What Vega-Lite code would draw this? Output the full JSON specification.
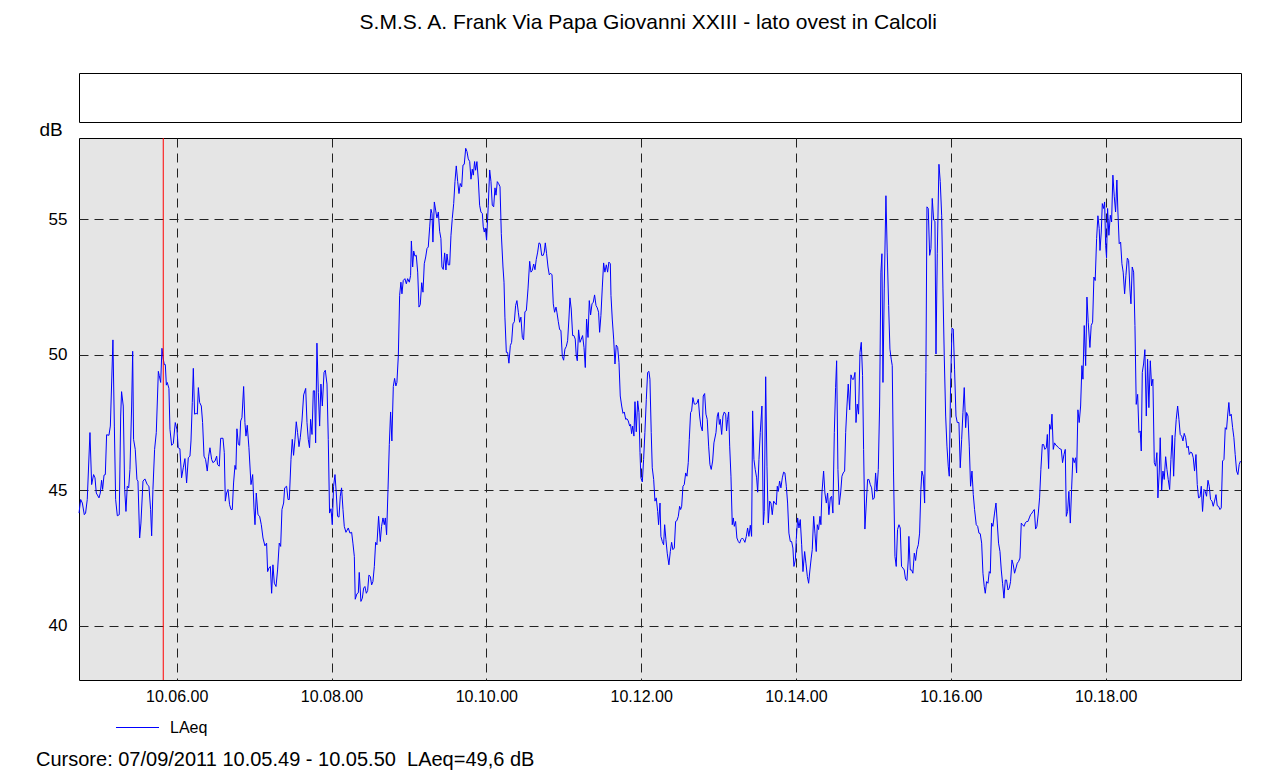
{
  "$schema": "https://vega.github.io/schema/vega-lite/v6.json",
  "background": "white",
  "autosize": {"type": "pad"},
  "padding": {"left": 35, "top": 11, "right": 44, "bottom": 10},
  "config": {
    "font": "Liberation Sans",
    "title": {"fontSize": 20, "fontWeight": "normal", "color": "#000"},
    "axis": {"labelFontSize": 16, "labelColor": "#000", "ticks": false, "domain": false, "grid": true, "gridDash": [9, 6], "gridColor": "#222", "gridWidth": 1, "gridOpacity": 1}
  },
  "title": {"text": "S.M.S. A. Frank Via Papa Giovanni XXIII - lato ovest in Calcoli", "anchor": "middle", "offset": 40, "dx": 9, "fontSize": 21},
  "bounds": "flush",
  "spacing": 16,
  "vconcat": [
    {
      "width": 1162, "height": 49,
      "view": {"fill": "white", "stroke": "#000", "strokeWidth": 1},
      "data": {"values": [{"note": ""}]},
      "mark": {"type": "text"},
      "encoding": {"text": {"field": "note", "type": "nominal"}}
    },
    {
      "width": 1162, "height": 542,
      "view": {"fill": "#e5e5e5", "stroke": "#000", "strokeWidth": 1},
      "title": {"text": "Cursore: 07/09/2011 10.05.49 - 10.05.50 \u00a0LAeq=49,6 dB", "orient": "bottom", "anchor": "start", "frame": "group", "dx": -43, "offset": 46, "fontSize": 20},
      "layer": [
        {
          "data": {"name": "laeq"},
          "mark": {"type": "line", "strokeWidth": 1, "interpolate": "linear"},
          "encoding": {
            "x": {"field": "t", "type": "quantitative", "scale": {"domain": [284.3, 1184.9], "nice": false, "zero": false},
                  "axis": {"values": [360, 480, 600, 720, 840, 960, 1080], "labelExpr": "timeFormat(datetime(2011, 8, 7, 10, 0, datum.value), '%H.%M.%S')", "title": null, "labelPadding": 8}},
            "y": {"field": "v", "type": "quantitative", "scale": {"domain": [38, 58], "nice": false, "zero": false},
                  "axis": {"values": [40, 45, 50, 55], "title": "dB", "titleAngle": 0, "titleX": -40, "titleY": -9, "titleAlign": "left", "titleBaseline": "middle", "titleFontSize": 19, "titleFontWeight": "normal", "titleColor": "#000", "labelPadding": 12, "labelFontSize": 17}},
            "color": {"datum": "LAeq", "type": "nominal", "scale": {"range": ["#0000ff"]},
                      "legend": {"orient": "none", "legendX": 36, "legendY": 632, "symbolType": "stroke", "symbolSize": 1850, "symbolStrokeWidth": 1.2, "symbolStrokeColor": "#0000ff", "symbolOpacity": 1, "labelFontSize": 16, "labelColor": "#000", "labelOffset": 10, "title": null, "padding": 0,
                                 "encode": {"symbols": {"update": {"stroke": {"value": "#0000ff"}, "strokeOpacity": {"value": 1}, "opacity": {"value": 1}}}}}}
          }
        },
        {
          "data": {"values": [{"cursor": 349.6}]},
          "mark": {"type": "rule", "color": "#ff0000", "strokeWidth": 1},
          "encoding": {"x": {"field": "cursor", "type": "quantitative"}}
        }
      ]
    }
  ],
  "datasets": {
    "laeq": [
{"t":284.3,"v":44.16},{"t":285.6,"v":44.66},{"t":286.9,"v":44.53},{"t":288.4,"v":44.10},{"t":289.4,"v":44.16},{"t":290.7,"v":44.66},{"t":292.8,"v":47.13},{"t":294.1,"v":45.21},{"t":295.6,"v":45.58},{"t":296.7,"v":45.46},{"t":297.7,"v":44.90},{"t":299.8,"v":44.72},{"t":300.8,"v":44.90},{"t":301.8,"v":45.37},{"t":302.6,"v":45.03},{"t":303.7,"v":45.56},{"t":304.7,"v":45.58},{"t":305.7,"v":47.05},{"t":307.5,"v":47.03},{"t":308.6,"v":47.37},{"t":310.6,"v":50.55},{"t":311.7,"v":47.37},{"t":312.7,"v":44.66},{"t":314.0,"v":44.06},{"t":315.5,"v":44.10},{"t":316.6,"v":47.74},{"t":317.3,"v":48.64},{"t":318.6,"v":48.11},{"t":319.7,"v":45.03},{"t":320.7,"v":44.22},{"t":321.7,"v":45.15},{"t":322.8,"v":45.09},{"t":323.8,"v":45.77},{"t":325.1,"v":48.11},{"t":325.9,"v":50.13},{"t":326.6,"v":46.88},{"t":327.9,"v":46.51},{"t":329.2,"v":45.40},{"t":330.0,"v":45.34},{"t":331.3,"v":43.24},{"t":332.3,"v":43.79},{"t":333.9,"v":45.34},{"t":335.4,"v":45.42},{"t":337.2,"v":45.21},{"t":338.5,"v":45.15},{"t":339.8,"v":44.29},{"t":340.6,"v":43.32},{"t":341.6,"v":45.03},{"t":342.9,"v":46.51},{"t":344.2,"v":47.13},{"t":345.8,"v":49.39},{"t":346.5,"v":49.23},{"t":347.6,"v":48.98},{"t":348.6,"v":50.24},{"t":349.6,"v":49.84},{"t":350.4,"v":49.64},{"t":351.2,"v":49.64},{"t":352.0,"v":48.88},{"t":352.7,"v":48.98},{"t":354.0,"v":48.76},{"t":354.8,"v":47.25},{"t":356.1,"v":46.66},{"t":357.4,"v":46.73},{"t":358.9,"v":47.50},{"t":360.2,"v":47.25},{"t":361.2,"v":46.57},{"t":362.5,"v":46.53},{"t":363.8,"v":45.46},{"t":365.1,"v":45.83},{"t":366.4,"v":46.17},
{"t":367.7,"v":45.27},{"t":369.0,"v":46.20},{"t":370.3,"v":46.26},{"t":371.1,"v":46.82},{"t":372.1,"v":48.24},{"t":372.9,"v":49.50},{"t":373.9,"v":47.81},{"t":375.2,"v":47.84},{"t":376.0,"v":47.81},{"t":376.8,"v":48.79},{"t":377.8,"v":48.24},{"t":379.1,"v":48.11},{"t":380.1,"v":47.50},{"t":381.2,"v":46.26},{"t":382.4,"v":46.14},{"t":383.7,"v":45.71},{"t":384.8,"v":46.26},{"t":385.8,"v":46.57},{"t":387.1,"v":46.14},{"t":388.1,"v":46.02},{"t":389.7,"v":46.08},{"t":391.0,"v":46.26},{"t":391.7,"v":45.95},{"t":393.0,"v":45.89},{"t":394.1,"v":46.92},{"t":395.9,"v":46.92},{"t":396.9,"v":46.39},{"t":397.7,"v":44.60},{"t":398.7,"v":44.90},{"t":399.8,"v":45.03},{"t":401.0,"v":44.47},{"t":402.1,"v":44.29},{"t":403.1,"v":44.29},{"t":404.1,"v":45.27},{"t":405.2,"v":45.92},{"t":405.9,"v":45.77},{"t":406.7,"v":47.27},{"t":407.8,"v":46.69},{"t":408.8,"v":46.66},{"t":409.6,"v":47.56},{"t":410.6,"v":47.68},{"t":411.9,"v":48.83},{"t":412.9,"v":47.50},{"t":413.7,"v":47.00},{"t":414.7,"v":47.40},{"t":416.0,"v":46.57},{"t":417.6,"v":45.21},{"t":418.9,"v":45.58},{"t":419.9,"v":44.35},{"t":420.7,"v":43.73},{"t":421.7,"v":44.90},{"t":423.0,"v":44.10},{"t":424.3,"v":44.04},{"t":425.6,"v":43.73},{"t":426.9,"v":43.24},{"t":428.4,"v":42.95},{"t":429.7,"v":43.05},{"t":430.5,"v":42.00},{"t":431.5,"v":42.13},{"t":432.6,"v":42.19},{"t":433.6,"v":41.20},{"t":434.6,"v":42.25},{"t":435.7,"v":41.57},{"t":437.0,"v":41.45},{"t":438.2,"v":42.06},{"t":439.5,"v":43.05},{"t":440.6,"v":42.93},{"t":441.6,"v":44.29},{"t":442.9,"v":44.53},{"t":443.7,"v":45.09},{"t":445.2,"v":45.15},{"t":446.3,"v":44.66},{"t":447.3,"v":44.66},
{"t":448.6,"v":46.14},{"t":449.6,"v":46.88},{"t":450.6,"v":46.29},{"t":451.7,"v":46.88},{"t":452.7,"v":47.53},{"t":453.7,"v":47.13},{"t":454.8,"v":46.61},{"t":455.8,"v":46.94},{"t":457.1,"v":47.56},{"t":458.4,"v":48.52},{"t":460.0,"v":48.76},{"t":461.0,"v":47.50},{"t":462.0,"v":46.88},{"t":463.0,"v":46.57},{"t":463.8,"v":47.62},{"t":464.9,"v":47.06},{"t":465.9,"v":48.67},{"t":466.9,"v":48.67},{"t":467.7,"v":46.75},{"t":468.7,"v":50.43},{"t":469.8,"v":48.61},{"t":470.8,"v":47.37},{"t":471.8,"v":48.92},{"t":472.9,"v":48.11},{"t":474.2,"v":49.35},{"t":475.2,"v":49.43},{"t":476.5,"v":48.92},{"t":477.5,"v":46.88},{"t":478.5,"v":44.16},{"t":479.6,"v":44.32},{"t":480.6,"v":43.73},{"t":481.6,"v":45.15},{"t":482.7,"v":45.58},{"t":483.7,"v":44.90},{"t":484.7,"v":44.04},{"t":485.8,"v":44.01},{"t":486.8,"v":44.78},{"t":487.8,"v":45.09},{"t":488.9,"v":44.29},{"t":489.9,"v":43.67},{"t":491.2,"v":43.45},{"t":493.0,"v":43.61},{"t":494.3,"v":43.42},{"t":495.6,"v":43.45},{"t":496.6,"v":43.05},{"t":497.7,"v":42.56},{"t":498.4,"v":40.98},{"t":499.7,"v":41.18},{"t":500.8,"v":41.22},{"t":501.5,"v":41.97},{"t":502.8,"v":40.90},{"t":503.9,"v":41.02},{"t":504.9,"v":41.39},{"t":505.9,"v":41.45},{"t":507.0,"v":41.20},{"t":508.0,"v":41.30},{"t":509.0,"v":41.87},{"t":510.1,"v":41.82},{"t":511.1,"v":41.51},{"t":512.1,"v":41.63},{"t":513.2,"v":42.19},{"t":514.2,"v":43.08},{"t":515.2,"v":42.99},{"t":516.5,"v":44.04},{"t":517.8,"v":43.11},{"t":518.8,"v":43.67},{"t":519.9,"v":43.98},{"t":520.9,"v":43.73},{"t":521.7,"v":43.98},{"t":522.7,"v":43.36},{"t":523.8,"v":45.03},{"t":524.8,"v":46.69},{"t":525.8,"v":47.89},{"t":526.8,"v":46.82},{"t":527.9,"v":48.83},{"t":528.9,"v":49.13},{"t":529.9,"v":48.85},
{"t":530.7,"v":48.98},{"t":531.8,"v":49.97},{"t":532.8,"v":52.19},{"t":533.8,"v":52.68},{"t":534.6,"v":52.25},{"t":535.6,"v":52.74},{"t":536.9,"v":52.81},{"t":538.0,"v":52.62},{"t":539.0,"v":52.81},{"t":540.3,"v":52.68},{"t":541.3,"v":52.93},{"t":541.9,"v":54.20},{"t":542.9,"v":53.24},{"t":543.7,"v":53.83},{"t":544.7,"v":53.64},{"t":545.7,"v":53.67},{"t":546.8,"v":53.05},{"t":547.8,"v":51.76},{"t":548.8,"v":51.85},{"t":549.9,"v":52.66},{"t":550.9,"v":52.31},{"t":551.9,"v":53.36},{"t":553.0,"v":53.61},{"t":554.0,"v":53.92},{"t":555.0,"v":53.98},{"t":556.1,"v":54.72},{"t":557.1,"v":55.37},{"t":557.9,"v":55.21},{"t":558.6,"v":54.16},{"t":559.7,"v":55.64},{"t":560.7,"v":55.34},{"t":561.7,"v":55.05},{"t":562.8,"v":55.27},{"t":563.8,"v":54.56},{"t":564.8,"v":54.29},{"t":565.6,"v":53.24},{"t":566.6,"v":53.15},{"t":567.7,"v":53.76},{"t":568.7,"v":53.13},{"t":569.5,"v":53.72},{"t":570.5,"v":53.32},{"t":571.6,"v":53.32},{"t":572.6,"v":54.41},{"t":573.6,"v":55.03},{"t":574.7,"v":55.58},{"t":575.7,"v":56.39},{"t":576.7,"v":56.97},{"t":577.8,"v":56.39},{"t":578.8,"v":55.95},{"t":579.8,"v":56.32},{"t":580.9,"v":56.20},{"t":581.9,"v":57.00},{"t":582.9,"v":57.03},{"t":584.0,"v":57.62},{"t":585.0,"v":57.50},{"t":586.0,"v":57.23},{"t":587.1,"v":57.13},{"t":588.1,"v":56.48},{"t":589.1,"v":56.85},{"t":589.9,"v":56.63},{"t":590.9,"v":57.13},{"t":591.7,"v":56.81},{"t":592.7,"v":57.13},{"t":593.8,"v":56.45},{"t":594.8,"v":55.52},{"t":595.8,"v":55.27},{"t":596.9,"v":55.21},{"t":597.6,"v":54.72},{"t":598.4,"v":54.53},{"t":599.2,"v":54.68},{"t":600.2,"v":54.23},{"t":601.5,"v":55.52},{"t":602.6,"v":56.82},{"t":603.6,"v":56.39},{"t":604.6,"v":55.52},{"t":605.7,"v":55.46},{"t":606.7,"v":56.16},{"t":607.5,"v":55.89},{"t":608.5,"v":56.39},{"t":609.5,"v":56.32},{"t":610.6,"v":56.20},{"t":611.6,"v":54.47},
{"t":612.9,"v":53.24},{"t":613.7,"v":52.68},{"t":614.4,"v":51.39},{"t":615.5,"v":50.09},{"t":616.5,"v":50.09},{"t":617.5,"v":49.69},{"t":618.6,"v":50.34},{"t":619.6,"v":50.46},{"t":620.6,"v":51.14},{"t":621.7,"v":51.22},{"t":622.7,"v":51.82},{"t":623.7,"v":52.00},{"t":624.8,"v":51.57},{"t":625.8,"v":51.20},{"t":626.8,"v":51.39},{"t":627.9,"v":50.64},{"t":628.9,"v":50.55},{"t":629.9,"v":51.59},{"t":631.0,"v":51.63},{"t":632.3,"v":52.43},{"t":633.6,"v":53.45},{"t":634.6,"v":53.05},{"t":635.6,"v":53.11},{"t":636.7,"v":53.35},{"t":637.7,"v":53.14},{"t":638.7,"v":53.52},{"t":639.8,"v":53.79},{"t":640.8,"v":54.13},{"t":641.8,"v":54.10},{"t":642.9,"v":53.67},{"t":644.1,"v":53.67},{"t":644.9,"v":53.79},{"t":645.7,"v":54.13},{"t":646.7,"v":53.73},{"t":647.8,"v":53.24},{"t":648.8,"v":52.95},{"t":649.8,"v":53.01},{"t":650.9,"v":52.95},{"t":651.9,"v":51.88},{"t":652.9,"v":51.57},{"t":654.0,"v":51.76},{"t":654.7,"v":51.57},{"t":655.8,"v":51.22},{"t":656.8,"v":50.93},{"t":657.8,"v":50.90},{"t":658.9,"v":49.94},{"t":659.9,"v":49.80},{"t":660.9,"v":50.21},{"t":662.0,"v":50.31},{"t":663.0,"v":50.52},{"t":664.0,"v":51.32},{"t":664.8,"v":52.10},{"t":665.8,"v":51.69},{"t":666.9,"v":50.71},{"t":667.9,"v":50.71},{"t":668.9,"v":50.58},{"t":669.7,"v":49.97},{"t":670.5,"v":49.78},{"t":671.5,"v":50.92},{"t":672.6,"v":50.46},{"t":673.6,"v":50.58},{"t":674.6,"v":50.71},{"t":675.7,"v":50.27},{"t":676.7,"v":49.53},{"t":677.7,"v":51.32},{"t":678.8,"v":50.64},{"t":679.8,"v":52.00},{"t":680.8,"v":51.47},{"t":681.9,"v":51.88},{"t":682.9,"v":51.94},{"t":683.9,"v":52.21},{"t":685.0,"v":51.82},{"t":686.0,"v":51.73},{"t":687.0,"v":51.57},{"t":687.8,"v":50.83},{"t":688.8,"v":51.45},{"t":689.9,"v":52.50},{"t":690.9,"v":53.39},{"t":691.9,"v":53.05},{"t":693.0,"v":53.32},{"t":694.0,"v":53.05},
{"t":695.0,"v":53.42},{"t":696.1,"v":53.36},{"t":696.6,"v":52.19},{"t":697.6,"v":51.32},{"t":698.7,"v":50.58},{"t":699.7,"v":49.66},{"t":700.7,"v":50.36},{"t":701.8,"v":50.27},{"t":702.8,"v":49.72},{"t":703.8,"v":48.48},{"t":704.9,"v":48.11},{"t":705.9,"v":47.84},{"t":706.9,"v":47.89},{"t":708.0,"v":47.62},{"t":709.0,"v":47.64},{"t":710.0,"v":47.56},{"t":711.1,"v":47.37},{"t":711.8,"v":47.43},{"t":712.6,"v":47.09},{"t":713.4,"v":47.37},{"t":714.4,"v":47.00},{"t":715.2,"v":48.27},{"t":716.2,"v":47.16},{"t":717.3,"v":48.30},{"t":718.3,"v":47.87},{"t":719.1,"v":46.39},{"t":719.8,"v":45.46},{"t":720.9,"v":45.31},{"t":721.9,"v":46.14},{"t":722.9,"v":47.13},{"t":724.0,"v":48.36},{"t":725.0,"v":49.35},{"t":726.0,"v":49.39},{"t":726.8,"v":49.10},{"t":727.8,"v":47.13},{"t":728.6,"v":45.83},{"t":729.7,"v":45.40},{"t":730.7,"v":44.60},{"t":731.7,"v":44.72},{"t":732.8,"v":44.22},{"t":733.5,"v":43.73},{"t":734.6,"v":44.53},{"t":735.3,"v":43.30},{"t":736.4,"v":43.11},{"t":737.4,"v":42.99},{"t":738.2,"v":43.73},{"t":739.2,"v":43.18},{"t":740.2,"v":42.68},{"t":741.5,"v":42.25},{"t":742.6,"v":42.74},{"t":743.6,"v":43.08},{"t":744.6,"v":42.81},{"t":745.7,"v":42.87},{"t":746.7,"v":43.85},{"t":747.7,"v":43.88},{"t":748.8,"v":44.04},{"t":749.8,"v":44.41},{"t":750.6,"v":44.29},{"t":751.4,"v":44.41},{"t":752.4,"v":45.15},{"t":753.4,"v":45.21},{"t":754.5,"v":45.64},{"t":755.5,"v":45.52},{"t":756.5,"v":46.02},{"t":757.3,"v":46.88},{"t":758.3,"v":47.87},{"t":759.1,"v":47.93},{"t":760.1,"v":48.42},{"t":761.2,"v":48.18},{"t":762.2,"v":48.18},{"t":763.2,"v":48.21},{"t":764.3,"v":48.36},{"t":765.3,"v":47.74},{"t":766.3,"v":47.37},{"t":767.4,"v":47.19},{"t":768.1,"v":48.48},{"t":769.2,"v":48.57},{"t":770.2,"v":47.81},{"t":771.2,"v":47.62},{"t":772.3,"v":46.63},{"t":773.3,"v":45.95},{"t":774.3,"v":45.77},{"t":775.4,"v":46.08},{"t":776.4,"v":46.75},
{"t":778.0,"v":47.13},{"t":779.0,"v":47.74},{"t":779.8,"v":47.87},{"t":780.6,"v":47.43},{"t":781.3,"v":47.62},{"t":782.4,"v":47.06},{"t":783.4,"v":47.74},{"t":784.4,"v":47.89},{"t":785.5,"v":47.81},{"t":786.2,"v":47.19},{"t":787.0,"v":47.62},{"t":787.8,"v":47.89},{"t":788.6,"v":46.63},{"t":789.6,"v":45.52},{"t":790.6,"v":43.73},{"t":791.4,"v":43.98},{"t":792.2,"v":43.67},{"t":793.2,"v":43.85},{"t":794.2,"v":43.24},{"t":795.3,"v":43.11},{"t":796.3,"v":43.05},{"t":797.3,"v":43.18},{"t":798.4,"v":43.24},{"t":799.4,"v":43.18},{"t":800.4,"v":43.08},{"t":801.5,"v":43.30},{"t":802.5,"v":43.61},{"t":803.5,"v":43.30},{"t":804.6,"v":43.71},{"t":805.6,"v":43.30},{"t":806.4,"v":47.93},{"t":807.4,"v":46.14},{"t":808.4,"v":45.77},{"t":809.5,"v":45.46},{"t":810.3,"v":44.93},{"t":811.3,"v":46.14},{"t":812.3,"v":47.13},{"t":813.6,"v":48.11},{"t":814.7,"v":43.73},{"t":815.4,"v":44.22},{"t":816.5,"v":49.19},{"t":817.5,"v":45.89},{"t":818.5,"v":43.79},{"t":819.6,"v":44.60},{"t":820.6,"v":44.53},{"t":821.6,"v":44.10},{"t":822.7,"v":44.60},{"t":823.7,"v":44.53},{"t":824.7,"v":44.47},{"t":825.5,"v":45.15},{"t":826.3,"v":44.96},{"t":827.3,"v":45.34},{"t":828.3,"v":45.09},{"t":829.4,"v":45.46},{"t":830.4,"v":45.67},{"t":831.4,"v":45.64},{"t":832.5,"v":45.15},{"t":833.5,"v":44.53},{"t":834.5,"v":43.42},{"t":835.6,"v":43.11},{"t":836.6,"v":43.11},{"t":837.6,"v":42.87},{"t":838.4,"v":42.19},{"t":839.5,"v":42.43},{"t":840.2,"v":43.18},{"t":841.3,"v":43.98},{"t":842.3,"v":43.61},{"t":843.3,"v":43.92},{"t":844.4,"v":42.99},{"t":845.4,"v":42.00},{"t":846.7,"v":42.74},{"t":847.7,"v":42.31},{"t":848.8,"v":41.82},{"t":849.8,"v":41.57},{"t":850.8,"v":42.06},{"t":851.8,"v":42.50},{"t":852.6,"v":42.81},{"t":853.7,"v":44.04},{"t":854.7,"v":43.42},{"t":855.7,"v":42.74},{"t":856.5,"v":43.73},{"t":857.5,"v":43.55},{"t":858.6,"v":44.04},
{"t":859.3,"v":43.73},{"t":860.1,"v":44.90},{"t":861.4,"v":45.71},{"t":862.4,"v":44.90},{"t":863.5,"v":44.53},{"t":864.5,"v":44.90},{"t":865.5,"v":44.10},{"t":866.6,"v":44.72},{"t":867.6,"v":44.78},{"t":868.6,"v":44.16},{"t":869.7,"v":47.13},{"t":870.7,"v":48.79},{"t":871.5,"v":49.78},{"t":872.5,"v":45.77},{"t":873.5,"v":44.47},{"t":874.6,"v":44.90},{"t":875.6,"v":45.52},{"t":876.6,"v":45.64},{"t":877.7,"v":45.71},{"t":878.5,"v":47.13},{"t":879.5,"v":48.11},{"t":880.5,"v":48.92},{"t":881.6,"v":47.97},{"t":882.6,"v":49.26},{"t":883.6,"v":49.10},{"t":884.7,"v":49.10},{"t":885.7,"v":49.35},{"t":886.5,"v":47.50},{"t":887.5,"v":48.18},{"t":888.5,"v":47.81},{"t":889.6,"v":50.09},{"t":890.6,"v":50.46},{"t":891.6,"v":49.23},{"t":892.4,"v":46.51},{"t":893.4,"v":43.57},{"t":894.5,"v":44.53},{"t":895.5,"v":45.40},{"t":896.5,"v":45.40},{"t":897.6,"v":45.21},{"t":898.6,"v":45.09},{"t":899.6,"v":44.66},{"t":900.7,"v":44.72},{"t":901.7,"v":45.64},{"t":902.7,"v":44.96},{"t":903.8,"v":45.77},{"t":904.8,"v":48.11},{"t":905.8,"v":53.05},{"t":906.6,"v":53.73},{"t":907.4,"v":48.98},{"t":908.4,"v":52.43},{"t":909.7,"v":55.87},{"t":910.7,"v":53.79},{"t":911.8,"v":51.82},{"t":912.8,"v":50.21},{"t":913.8,"v":49.84},{"t":914.6,"v":49.60},{"t":915.6,"v":45.64},{"t":916.7,"v":42.56},{"t":917.7,"v":42.19},{"t":918.7,"v":43.55},{"t":919.8,"v":43.73},{"t":920.8,"v":43.61},{"t":921.8,"v":42.19},{"t":922.9,"v":42.13},{"t":923.9,"v":42.06},{"t":924.9,"v":41.72},{"t":926.0,"v":41.67},{"t":927.0,"v":42.43},{"t":927.5,"v":43.30},{"t":928.6,"v":42.06},{"t":929.6,"v":42.06},{"t":930.6,"v":41.94},{"t":931.7,"v":42.68},{"t":932.7,"v":42.41},{"t":933.7,"v":42.81},{"t":934.8,"v":42.99},{"t":935.8,"v":43.42},{"t":936.8,"v":45.03},{"t":937.6,"v":45.71},{"t":938.6,"v":45.52},{"t":939.7,"v":44.53},{"t":940.7,"v":49.35},{"t":941.5,"v":55.46},
{"t":942.5,"v":55.40},{"t":943.6,"v":53.67},{"t":944.6,"v":53.92},{"t":945.6,"v":55.77},{"t":946.7,"v":54.97},{"t":947.7,"v":54.93},{"t":948.5,"v":50.03},{"t":949.5,"v":53.73},{"t":950.8,"v":57.03},{"t":951.8,"v":56.39},{"t":952.9,"v":55.15},{"t":953.9,"v":52.43},{"t":954.9,"v":49.97},{"t":956.0,"v":47.74},{"t":957.0,"v":46.63},{"t":958.0,"v":45.89},{"t":958.8,"v":45.52},{"t":959.8,"v":48.85},{"t":960.9,"v":50.98},{"t":961.9,"v":50.95},{"t":962.9,"v":49.47},{"t":964.0,"v":47.74},{"t":965.0,"v":47.50},{"t":966.3,"v":47.50},{"t":967.3,"v":45.83},{"t":968.4,"v":46.88},{"t":969.4,"v":47.87},{"t":970.4,"v":48.79},{"t":971.5,"v":47.31},{"t":972.2,"v":47.87},{"t":973.3,"v":47.74},{"t":974.3,"v":46.63},{"t":975.3,"v":45.15},{"t":976.4,"v":45.71},{"t":977.4,"v":44.84},{"t":978.4,"v":44.29},{"t":979.7,"v":43.73},{"t":980.8,"v":43.67},{"t":981.8,"v":43.42},{"t":982.8,"v":43.40},{"t":983.9,"v":43.05},{"t":984.9,"v":41.94},{"t":985.9,"v":41.45},{"t":986.7,"v":41.20},{"t":987.7,"v":41.63},{"t":988.8,"v":41.57},{"t":989.8,"v":42.00},{"t":990.6,"v":41.94},{"t":991.6,"v":43.79},{"t":992.6,"v":43.67},{"t":993.9,"v":44.16},{"t":995.0,"v":44.53},{"t":996.0,"v":43.79},{"t":997.0,"v":43.05},{"t":998.1,"v":42.74},{"t":999.1,"v":42.06},{"t":1000.1,"v":41.57},{"t":1001.2,"v":41.02},{"t":1002.2,"v":41.69},{"t":1003.2,"v":41.69},{"t":1004.3,"v":41.32},{"t":1005.3,"v":41.39},{"t":1006.3,"v":41.63},{"t":1007.4,"v":42.43},{"t":1008.4,"v":42.25},{"t":1009.4,"v":41.94},{"t":1010.5,"v":42.13},{"t":1011.5,"v":42.31},{"t":1012.5,"v":42.37},{"t":1013.6,"v":42.50},{"t":1014.6,"v":43.79},{"t":1015.6,"v":43.73},{"t":1016.7,"v":43.67},{"t":1017.7,"v":43.79},{"t":1018.7,"v":43.85},{"t":1019.8,"v":43.85},{"t":1020.8,"v":43.98},{"t":1021.8,"v":44.10},{"t":1022.9,"v":44.16},
{"t":1023.6,"v":44.22},{"t":1024.7,"v":44.29},{"t":1025.7,"v":43.57},{"t":1026.7,"v":43.67},{"t":1027.8,"v":44.16},{"t":1028.8,"v":44.72},{"t":1029.8,"v":45.77},{"t":1030.9,"v":46.69},{"t":1031.9,"v":46.69},{"t":1032.9,"v":46.51},{"t":1034.0,"v":46.57},{"t":1034.8,"v":47.06},{"t":1035.8,"v":45.80},{"t":1036.6,"v":47.43},{"t":1037.6,"v":47.25},{"t":1038.4,"v":47.81},{"t":1039.4,"v":46.51},{"t":1040.4,"v":46.75},{"t":1041.5,"v":46.66},{"t":1042.5,"v":46.63},{"t":1043.5,"v":46.57},{"t":1044.6,"v":46.53},{"t":1045.6,"v":46.51},{"t":1046.6,"v":46.02},{"t":1047.7,"v":46.32},{"t":1048.7,"v":46.51},{"t":1049.5,"v":44.04},{"t":1050.5,"v":44.22},{"t":1051.5,"v":44.96},{"t":1052.6,"v":43.79},{"t":1053.6,"v":45.03},{"t":1054.6,"v":46.20},{"t":1055.7,"v":46.02},{"t":1056.7,"v":46.20},{"t":1057.5,"v":45.64},{"t":1058.5,"v":47.97},{"t":1059.5,"v":47.50},{"t":1060.6,"v":48.11},{"t":1061.6,"v":49.60},{"t":1062.4,"v":49.10},{"t":1063.4,"v":51.08},{"t":1064.5,"v":49.60},{"t":1065.5,"v":52.13},{"t":1066.5,"v":51.20},{"t":1067.8,"v":50.27},{"t":1068.8,"v":51.08},{"t":1069.9,"v":51.20},{"t":1070.9,"v":52.87},{"t":1071.9,"v":52.74},{"t":1073.0,"v":54.29},{"t":1074.0,"v":55.13},{"t":1075.0,"v":54.66},{"t":1075.6,"v":53.85},{"t":1076.6,"v":54.53},{"t":1077.4,"v":55.58},{"t":1078.4,"v":55.40},{"t":1079.2,"v":55.64},{"t":1080.0,"v":54.04},{"t":1080.7,"v":53.58},{"t":1081.5,"v":55.40},{"t":1082.5,"v":54.41},{"t":1083.6,"v":55.15},{"t":1084.6,"v":54.90},{"t":1085.6,"v":56.63},{"t":1086.7,"v":55.83},{"t":1087.7,"v":55.27},{"t":1088.7,"v":56.45},{"t":1089.5,"v":55.27},{"t":1090.5,"v":54.10},{"t":1091.6,"v":54.16},{"t":1092.6,"v":53.36},{"t":1093.6,"v":53.05},{"t":1094.7,"v":52.25},{"t":1095.7,"v":52.93},{"t":1096.8,"v":53.57},{"t":1097.8,"v":53.48},{"t":1098.8,"v":52.43},{"t":1099.6,"v":51.88},{"t":1100.6,"v":53.24},{"t":1101.7,"v":53.05},{"t":1102.7,"v":51.08},{"t":1103.7,"v":48.17},{"t":1104.8,"v":48.54},{"t":1105.8,"v":47.13},
{"t":1106.8,"v":47.19},{"t":1107.6,"v":46.45},{"t":1108.4,"v":49.35},{"t":1109.4,"v":49.66},{"t":1110.4,"v":50.19},{"t":1111.5,"v":47.74},{"t":1112.5,"v":49.84},{"t":1113.5,"v":48.05},{"t":1114.6,"v":49.78},{"t":1115.6,"v":48.85},{"t":1116.6,"v":49.10},{"t":1117.7,"v":46.02},{"t":1118.7,"v":45.89},{"t":1119.7,"v":46.39},{"t":1120.5,"v":44.72},{"t":1121.5,"v":45.64},{"t":1122.3,"v":46.94},{"t":1123.4,"v":45.00},{"t":1124.4,"v":45.71},{"t":1125.4,"v":45.40},{"t":1126.5,"v":46.24},{"t":1127.5,"v":45.77},{"t":1128.5,"v":45.40},{"t":1129.6,"v":45.03},{"t":1130.6,"v":46.14},{"t":1131.6,"v":47.03},{"t":1132.7,"v":45.52},{"t":1133.7,"v":46.94},{"t":1134.7,"v":47.62},{"t":1135.8,"v":48.11},{"t":1136.8,"v":47.62},{"t":1137.8,"v":47.06},{"t":1138.9,"v":47.00},{"t":1139.9,"v":46.82},{"t":1140.9,"v":47.10},{"t":1142.0,"v":46.94},{"t":1143.0,"v":46.57},{"t":1144.0,"v":46.63},{"t":1144.8,"v":46.32},{"t":1145.8,"v":46.41},{"t":1146.9,"v":46.38},{"t":1147.9,"v":46.20},{"t":1148.9,"v":45.71},{"t":1150.0,"v":46.32},{"t":1151.0,"v":45.21},{"t":1152.0,"v":44.72},{"t":1153.1,"v":44.75},{"t":1154.1,"v":45.15},{"t":1155.1,"v":44.22},{"t":1156.2,"v":45.03},{"t":1157.2,"v":44.96},{"t":1158.2,"v":44.78},{"t":1159.3,"v":45.37},{"t":1160.3,"v":45.15},{"t":1161.3,"v":44.66},{"t":1162.4,"v":44.60},{"t":1163.4,"v":44.41},{"t":1164.4,"v":44.60},{"t":1165.5,"v":44.84},{"t":1166.5,"v":44.43},{"t":1167.5,"v":44.41},{"t":1168.6,"v":44.29},{"t":1169.6,"v":44.35},{"t":1170.6,"v":46.08},{"t":1171.7,"v":46.14},{"t":1172.7,"v":47.31},{"t":1173.7,"v":47.25},{"t":1174.5,"v":47.74},{"t":1175.5,"v":48.24},{"t":1176.3,"v":47.74},{"t":1177.3,"v":47.81},{"t":1178.4,"v":47.31},{"t":1179.4,"v":46.94},{"t":1180.4,"v":46.32},{"t":1181.5,"v":45.71},{"t":1182.5,"v":45.58},{"t":1183.5,"v":45.95},{"t":1184.5,"v":46.08}
    ]
  }
}
